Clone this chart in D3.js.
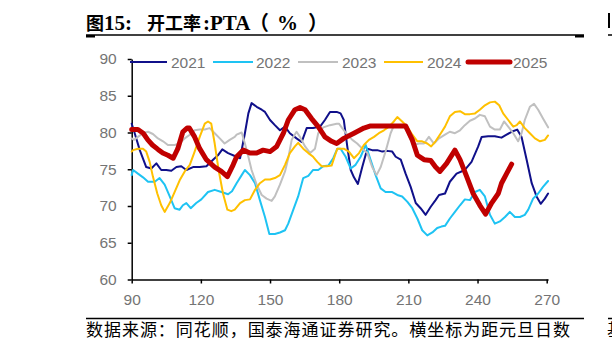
<!DOCTYPE html>
<html><head><meta charset="utf-8">
<script src="https://cdn.jsdelivr.net/npm/d3@7"></script>
<style>body{margin:0;background:#fff}svg{display:block}</style>
</head><body>
<svg id="c" width="612" height="350"></svg>
<script>
// ---- data (x = days since New Year, y = PTA operating rate %) ----
const years = ["2021","2022","2023","2024","2025"];
const xTicks = [90,120,150,180,210,240,270];
const yTicks = [60,65,70,75,80,85,90];

const s2021 = [[90,81.2],[91.3,79.9],[93.5,77.6],[96.3,75.3],[98.5,75.1],[100.7,75.8],[102.8,74.9],[105,74.9],[107.2,74.8],[109.4,75.3],[111.5,75.4],[113.7,74.9],[116.6,75.3],[119.5,75.3],[122.4,75.4],[125.3,76.3],[127.4,76.9],[129.3,77.7],[131.8,77.2],[134.7,76.8],[137,76.5],[139.1,79.9],[140.6,82.6],[142,84.0],[144.2,83.5],[146.4,83.1],[147.8,82.8],[150,81.7],[152.1,81.0],[154.3,80.3],[156.5,80.8],[158.6,79.9],[161.5,79.2],[163.7,78.7],[165.9,80.6],[168.7,80.6],[171.7,80.8],[173.8,81.7],[176,82.8],[178.9,82.8],[180.6,82.6],[182,81.7],[183.5,78.1],[185,74.9],[186.4,73.9],[188.1,73.0],[190,75.3],[192.2,77.8],[194.3,77.6],[196.5,77.6],[198.7,77.4],[200.8,77.5],[203,77.4],[204.5,76.7],[206.7,76.3],[208.8,74.4],[211,72.6],[213.2,70.4],[215.3,69.7],[217.5,68.8],[219.7,69.9],[221.8,70.8],[223.3,71.5],[225.9,71.7],[228,73.3],[230.9,74.4],[234.5,74.9],[237.4,76.0],[240.3,78.1],[241.8,79.4],[244.6,79.5],[247.5,79.5],[250.4,79.3],[252.6,79.7],[254.8,80.1],[257.2,80.4],[259.1,79.4],[261.3,76.3],[263.5,73.1],[265.6,71.3],[267.4,70.3],[269.2,71.0],[270.6,71.7]];

const s2022 = [[90,74.2],[90.6,74.9],[92.7,74.4],[94.9,73.9],[97.1,73.3],[100,73.3],[102.1,73.8],[104.3,72.9],[106.5,71.3],[108.6,69.7],[110.8,69.5],[112.2,70.1],[113.7,70.4],[115.6,69.7],[118,70.4],[120.2,70.9],[123.1,71.9],[126,72.2],[128.9,71.9],[131.8,71.6],[133.5,72.0],[135.5,73.1],[137.7,74.2],[139.1,74.9],[141.3,74.2],[143.5,73.1],[145.6,70.8],[147.8,68.5],[149.7,66.2],[152.1,66.2],[154.3,66.4],[156.5,66.7],[157.9,67.6],[160.1,69.5],[162.2,71.3],[164.4,73.8],[166.6,74.1],[168.7,74.9],[170.9,74.9],[173.1,75.4],[175.3,75.5],[177.4,76.5],[179.2,77.8],[180.6,77.8],[182.8,76.7],[185,75.1],[187.1,75.6],[189.3,76.7],[191.5,78.3],[193.6,76.3],[195.8,74.2],[198,72.4],[200.1,71.9],[203,71.9],[205.2,71.5],[207.3,71.3],[209.5,70.6],[211.7,69.7],[213.9,68.3],[216,66.7],[218.2,66.0],[220.4,66.4],[222.5,67.0],[224.3,67.2],[225.9,67.3],[228,68.3],[230.2,69.2],[232.4,70.1],[234.5,70.9],[236.7,70.8],[238.9,71.9],[241,72.2],[243.2,71.3],[245.4,68.8],[247.5,67.6],[249.7,67.9],[251.9,68.5],[254,69.2],[256.2,68.5],[258.4,68.5],[260.5,68.8],[262,69.5],[264.1,71.0],[266.3,71.7],[268.4,72.6],[270.6,73.4]];

const s2023 = [[90,79.2],[91,79.0],[92.7,79.4],[94.9,79.9],[97.1,80.1],[99.2,79.8],[101.4,79.2],[103.6,78.8],[105.7,78.3],[108.6,78.3],[110.8,78.5],[113,79.2],[115.2,79.7],[117.3,80.3],[119.5,80.4],[121.7,80.4],[123.8,80.6],[126,79.9],[128.2,79.2],[130.3,78.5],[132.5,79.0],[134.7,79.4],[135.5,79.7],[137.7,80.0],[139.1,78.5],[140.6,76.7],[142,74.9],[144.2,72.9],[146.4,71.5],[148.5,71.0],[150.7,70.7],[152.1,71.3],[154.3,72.9],[156.5,74.7],[157.9,76.5],[159.4,79.0],[161.5,80.1],[163,79.4],[165.2,78.1],[167.4,77.2],[169.5,77.8],[170.9,79.9],[173.1,80.7],[176,81.0],[178.9,81.2],[179.9,81.2],[181.3,80.6],[183.5,79.7],[185.7,79.0],[187.8,78.5],[190,77.8],[192.2,77.2],[194.3,75.3],[196.2,74.2],[198,75.3],[200.1,77.4],[202.3,79.9],[203.8,81.0],[205.9,80.9],[208.1,80.8],[209.5,80.1],[211,79.0],[212.4,78.3],[214.6,78.5],[216.8,78.5],[218.9,79.4],[221.1,78.5],[223.3,79.2],[225.9,79.7],[228,80.1],[230.2,79.9],[232.4,80.3],[234.5,81.0],[236.7,81.6],[238.9,81.9],[241,82.4],[243.2,82.2],[245.4,80.8],[247.5,80.4],[249.7,80.4],[251.5,81.5],[253.3,80.8],[255.5,79.9],[257.6,78.8],[259.1,79.9],[260.5,81.7],[262.7,83.5],[264.5,83.9],[266.3,83.1],[268.4,81.9],[270.6,80.7]];

const s2024 = [[90,77.4],[90.6,77.6],[92.7,77.8],[94.9,77.8],[96.3,77.4],[97.8,76.0],[99.2,74.0],[101.1,71.7],[102.8,70.1],[104.3,69.2],[106.5,70.4],[108.6,71.9],[110.8,73.5],[113,74.7],[115.2,75.6],[117.3,77.4],[119.5,79.4],[121.7,81.2],[123.1,81.5],[124.5,81.2],[126,78.5],[127.7,74.9],[129.6,71.7],[131.5,69.5],[133.2,69.3],[134.7,69.5],[137,70.4],[139.1,70.8],[141.3,70.9],[143.5,72.2],[145.6,73.1],[147.8,73.6],[150,73.6],[152.1,73.8],[154.3,74.2],[156.5,75.6],[158.6,77.2],[160.8,78.1],[162.2,78.6],[164.4,77.8],[166.6,77.2],[168.7,76.7],[170.5,76.0],[172.4,75.4],[174.6,75.4],[176.7,75.5],[178.2,76.9],[179.2,77.8],[182,77.8],[184.2,77.4],[186.4,76.5],[188.6,77.2],[190.7,78.3],[192.9,79.0],[195.1,79.4],[197.2,79.9],[199.4,80.3],[201.6,80.8],[203.7,81.5],[205.2,82.1],[207.3,81.5],[209.5,80.8],[211.7,79.7],[213.9,78.8],[216,78.8],[218.2,78.5],[219.9,78.1],[221.8,78.8],[224.3,80.0],[225.9,80.8],[228,82.2],[230.2,82.8],[232.4,82.9],[234.5,82.5],[236.7,82.5],[238.9,82.6],[241,83.1],[243.2,83.7],[245.4,84.1],[247.5,84.2],[249.4,83.7],[251.1,82.6],[253.3,81.7],[255.5,80.8],[257,81.0],[258.4,81.5],[260.5,80.6],[262.7,79.9],[264.9,79.2],[267.1,78.8],[269.2,79.0],[270.6,79.6]];

const s2025 = [[90,80.4],[92.7,80.4],[95,79.9],[97,79.0],[99,78.3],[101.4,77.7],[103.5,77.2],[105.7,76.9],[108,76.5],[110,77.8],[112.2,80.1],[114,80.6],[115,80.6],[117.3,79.4],[119.5,77.8],[122.4,76.3],[126,75.3],[128.9,74.7],[131.5,74.0],[134,75.6],[135.5,76.7],[138.4,77.6],[141.3,77.2],[144.2,77.2],[147,77.6],[150,77.4],[152.9,78.1],[155.8,79.9],[157.9,81.7],[160.8,83.1],[163,83.4],[165.2,83.1],[168,81.9],[170.9,80.8],[173.8,79.4],[176.7,78.8],[178.9,78.5],[182,79.2],[186.4,79.9],[190.7,80.6],[193.6,80.9],[208.8,80.9],[211.7,79.0],[213.9,76.9],[216.8,76.3],[219.7,76.2],[221.8,75.3],[223.7,74.7],[226.6,75.8],[230.2,77.6],[232.4,76.3],[235.3,74.0],[238.1,71.7],[241,70.1],[243.5,68.9],[246.1,70.4],[249,71.7],[250.4,73.1],[252.6,74.4],[254.8,75.7]];

const seriesData = [s2021, s2022, s2023, s2024, s2025];
const colors = ["#10108a","#1ec3f3","#c0c0c0","#ffc000","#c00000"];
const widths = [2, 2, 2, 2, 5];

// ---- drawing ----
const svg = d3.select("#c");
const x = d3.scaleLinear().domain([90,270]).range([131.7,546.7]);
const y = d3.scaleLinear().domain([60,90]).range([279.5,59]);
const labelColor = "#747474";
const tickFont = "Liberation Sans, Arial, sans-serif";

// title
const title = svg.append("text").attr("y", 30).attr("font-weight","bold").attr("fill","#000");
title.append("tspan").attr("x",86).attr("font-family","Noto Sans CJK SC").attr("font-size",18).text("图");
title.append("tspan").attr("x",104).attr("font-family","Liberation Serif").attr("font-size",21).text("15:");
title.append("tspan").attr("x",147).attr("font-family","Noto Sans CJK SC").attr("font-size",18).text("开工率");
title.append("tspan").attr("x",203).attr("font-family","Liberation Serif").attr("font-size",21).text(":PTA");
title.append("tspan").attr("x",249).attr("font-family","Noto Sans CJK SC").attr("font-size",20).text("（");
title.append("tspan").attr("x",277).attr("font-family","Liberation Serif").attr("font-size",21).text("%");
title.append("tspan").attr("x",308).attr("font-family","Noto Sans CJK SC").attr("font-size",20).text("）");

// header / footer rules
svg.append("line").attr("x1",86).attr("x2",584).attr("y1",35).attr("y2",35).attr("stroke","#000").attr("stroke-width",1.5);
svg.append("rect").attr("x",86).attr("y",35).attr("width",9).attr("height",2.5).attr("fill","#000");
svg.append("rect").attr("x",575).attr("y",35).attr("width",9).attr("height",2.5).attr("fill","#000");
svg.append("line").attr("x1",608).attr("x2",612).attr("y1",35).attr("y2",35).attr("stroke","#000").attr("stroke-width",1.5);
svg.append("rect").attr("x",608).attr("y",13).attr("width",2).attr("height",15).attr("fill","#000");
svg.append("line").attr("x1",86).attr("x2",584).attr("y1",318.5).attr("y2",318.5).attr("stroke","#000").attr("stroke-width",1.5);
svg.append("line").attr("x1",608).attr("x2",612).attr("y1",318.5).attr("y2",318.5).attr("stroke","#000").attr("stroke-width",1.5);

// footer text
svg.append("text").attr("x",86).attr("y",336).attr("font-family","Noto Sans CJK SC").attr("font-size",17)
  .attr("textLength",484).attr("lengthAdjust","spacing").attr("fill","#000")
  .text("数据来源：同花顺，国泰海通证券研究。横坐标为距元旦日数");
svg.append("text").attr("x",607).attr("y",336).attr("font-family","Noto Sans CJK SC").attr("font-size",17).attr("fill","#000").text("基");

// axes
const xAxisScale = x.copy().domain([90,270.6]).range([131.7, x(270.6)]);
const gx = svg.append("g").attr("transform",`translate(0,${y(60)})`)
  .call(d3.axisBottom(xAxisScale).tickValues(xTicks).tickSize(4).tickSizeOuter(0).tickPadding(10).tickFormat(d3.format("d")));
gx.selectAll("text").attr("font-family",tickFont).attr("font-size",15.5).attr("fill",labelColor);

const gy = svg.append("g").attr("transform",`translate(${x(90)},0)`)
  .call(d3.axisLeft(y).tickValues(yTicks).tickSize(4).tickSizeOuter(0).tickPadding(11).tickFormat(d3.format("d")));
gy.selectAll("text").attr("font-family",tickFont).attr("font-size",15.5).attr("fill",labelColor);

[gx, gy].forEach(g => {
  g.select(".domain").attr("stroke","#000").attr("stroke-width",1.5);
  g.selectAll(".tick line").attr("stroke","#000").attr("stroke-width",1.5);
});

// lines
const line = d3.line().x(d => x(d[0])).y(d => y(d[1])).curve(d3.curveLinear);
seriesData.forEach((s, i) => {
  svg.append("path").datum(s).attr("d", line).attr("fill","none")
    .attr("stroke", colors[i]).attr("stroke-width", widths[i])
    .attr("stroke-linejoin","round").attr("stroke-linecap","round");
});

// legend
const legendPos = [[130,167,171],[213,253,256],[298,338,342],[384,423,427],[468,510,513]];
years.forEach((yr, i) => {
  const p = legendPos[i];
  svg.append("line").attr("x1",p[0]).attr("x2",p[1]).attr("y1",62).attr("y2",62)
    .attr("stroke",colors[i]).attr("stroke-width", i===4 ? 5 : 2).attr("stroke-linecap", i===4 ? "round" : "butt");
  svg.append("text").attr("x",p[2]).attr("y",67.5).attr("font-family",tickFont).attr("font-size",15.5)
    .attr("fill",labelColor).text(yr);
});
</script>
</body></html>
